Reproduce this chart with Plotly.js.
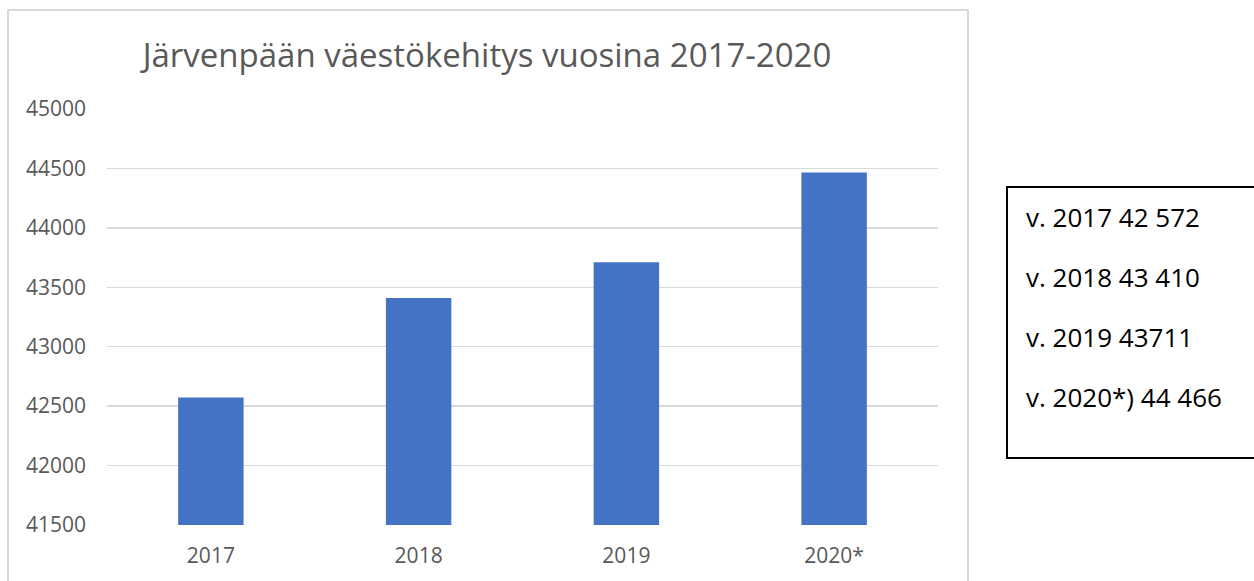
<!DOCTYPE html>
<html>
<head>
<meta charset="utf-8">
<script src="https://cdn.plot.ly/plotly-3.0.1.min.js"></script>
<style>html,body{margin:0;padding:0;background:#fff;}#chart{width:1254px;height:581px;}</style>
</head>
<body>
<div id="chart"></div>
<script>
const categories = ["2017", "2018", "2019", "2020*"];
const population = [42572, 43410, 43711, 44466];
const boxLabels = ["v. 2017 42 572", "v. 2018 43 410", "v. 2019 43711", "v. 2020*) 44 466"];
const titleText = "Järvenpään väestökehitys vuosina 2017-2020";

const W = 1254, H = 581;
const L = 107, R = 938, T = 109, B = 525;
const pw = R - L, ph = B - T;
const px = v => (v - L) / pw;
const py = v => (B - v) / ph;

const trace = {
  type: "bar",
  x: categories,
  y: population,
  marker: {color: "#4472C4"},
  width: 0.315,
  hoverinfo: "x+y"
};

const lineYs = [217, 277, 337, 397];
const annotations = boxLabels.map((t, i) => ({
  text: t, xref: "paper", yref: "paper",
  x: px(1024), y: py(lineYs[i]), xanchor: "left", yanchor: "middle",
  showarrow: false,
  font: {family: "Open Sans, sans-serif", size: 26, color: "#000"}
}));

const layout = {
  width: W, height: H,
  margin: {l: L, r: W - R, t: T, b: H - B, pad: 0},
  paper_bgcolor: "#fff", plot_bgcolor: "#fff",
  showlegend: false,
  title: {
    text: titleText, xref: "container", yref: "container",
    x: 487 / W, y: 1 - 55 / H, xanchor: "center", yanchor: "middle",
    font: {family: "Open Sans, sans-serif", size: 33, color: "#595959"}
  },
  xaxis: {
    type: "category",
    showgrid: false, zeroline: false, showline: false,
    ticks: "", ticklabelstandoff: 16,
    tickfont: {family: "Open Sans, sans-serif", size: 21, color: "#595959"}
  },
  yaxis: {
    range: [41500, 45000], dtick: 500, tick0: 41500,
    showgrid: true, gridcolor: "#d9d9d9", gridwidth: 1.5,
    zeroline: false, showline: false, ticks: "",
    tickformat: "d", ticklabelstandoff: 20,
    tickfont: {family: "Open Sans, sans-serif", size: 21, color: "#595959"}
  },
  shapes: [
    {type: "rect", xref: "paper", yref: "paper", layer: "below",
     x0: px(8), x1: px(968), y0: py(10), y1: py(600),
     line: {color: "#d9d9d9", width: 2}, fillcolor: "rgba(0,0,0,0)"},
    {type: "rect", xref: "paper", yref: "paper",
     x0: px(1007), x1: px(1262), y0: py(187), y1: py(458),
     line: {color: "#000", width: 2}, fillcolor: "rgba(0,0,0,0)"}
  ],
  annotations: annotations
};

Plotly.newPlot("chart", [trace], layout, {staticPlot: true, displayModeBar: false});
</script>
</body>
</html>
